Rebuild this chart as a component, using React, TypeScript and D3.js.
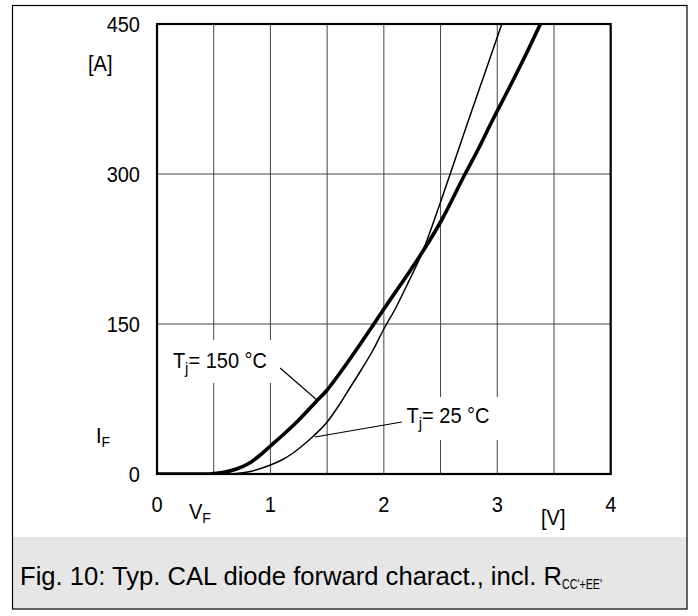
import React from "react";
import * as d3 from "d3";

const xTicks = [0, 1, 2, 3, 4];
const yTicks = [0, 150, 300, 450];
const xGrid = [0.5, 1, 1.5, 2, 2.5, 3, 3.5];
const yGrid = [150, 300];

const hotV = [0, 0.45, 0.5, 0.6, 0.7, 0.8, 0.9, 1.0, 1.1, 1.25, 1.4, 1.5, 1.6, 1.75, 1.9, 2.0, 2.2, 2.34, 2.5, 2.716, 2.833, 2.95, 3.1, 3.25, 3.38];
const hotI = [0, 0, 0.5, 2, 5, 10, 18, 28, 38, 54, 72, 84, 99, 123, 148, 165, 198, 222, 252, 300, 325, 352, 385, 419, 450];

const coldV = [0, 0.6, 0.7, 0.8, 0.9, 1.0, 1.1, 1.2, 1.3, 1.38, 1.5, 1.6, 1.7, 1.8, 1.9, 2.0, 2.1, 2.2, 2.34, 2.5, 2.6, 2.75, 2.9, 3.04];
const coldI = [0, 0, 0.5, 2, 5, 9, 14, 21, 30, 38, 52, 68, 86, 104, 123, 145, 165, 188, 222, 272, 305, 355, 404, 450];

const W = 698;
const H = 616;
const M = { left: 157, right: 610.7, top: 24, bottom: 474 };
const FONT = "'Liberation Sans', Arial, Helvetica, sans-serif";
const SY = 1.1;

function T({ x, y, anchor, size, children }: { x: number; y: number; anchor?: string; size?: number; children: React.ReactNode }) {
  return (
    <text transform={`translate(${x},${y}) scale(1,${SY})`} fontSize={size ?? 20} textAnchor={anchor ?? "start"} fill="#000">
      {children}
    </text>
  );
}

export default function App() {
  const x = d3.scaleLinear().domain([0, 4]).range([M.left, M.right]);
  const y = d3.scaleLinear().domain([0, 450]).range([M.bottom, M.top]);
  const line = d3
    .line<[number, number]>()
    .x((d) => x(d[0]))
    .y((d) => y(d[1]))
    .curve(d3.curveMonotoneX);
  const hot = line(hotV.map((v, i) => [v, hotI[i]] as [number, number])) || "";
  const cold = line(coldV.map((v, i) => [v, coldI[i]] as [number, number])) || "";

  return (
    <svg width={W} height={H} style={{ display: "block", position: "absolute", left: 0, top: 0 }} fontFamily={FONT}>
      <rect x={0} y={0} width={W} height={H} fill="#fff" />
      <rect x={12} y={537} width={675} height={72} fill="#e6e6e6" />
      <rect x={12.5} y={5.5} width={674.5} height={603.5} fill="none" stroke="#000" strokeWidth={1.2} />
      <defs>
        <clipPath id="plotclip">
          <rect x={M.left} y={M.top} width={M.right - M.left} height={M.bottom - M.top} />
        </clipPath>
      </defs>
      {xGrid.map((v) => (
        <line key={"xg" + v} x1={x(v)} x2={x(v)} y1={M.top} y2={M.bottom} stroke="#444" strokeWidth={1} />
      ))}
      {yGrid.map((v) => (
        <line key={"yg" + v} x1={M.left} x2={M.right} y1={y(v)} y2={y(v)} stroke="#444" strokeWidth={1} />
      ))}
      <rect x={x(0.07)} y={y(134)} width={x(1.085) - x(0.07)} height={y(91) - y(134)} fill="#fff" />
      <rect x={x(2.14)} y={y(77)} width={x(3.02) - x(2.14)} height={y(34) - y(77)} fill="#fff" />
      <g clipPath="url(#plotclip)">
        <path d={cold} fill="none" stroke="#000" strokeWidth={1.5} />
        <path d={hot} fill="none" stroke="#000" strokeWidth={3.6} />
      </g>
      <rect x={M.left} y={M.top} width={M.right - M.left} height={M.bottom - M.top} fill="none" stroke="#000" strokeWidth={2.2} />
      <line x1={x(1.085)} y1={y(106)} x2={x(1.41)} y2={y(74)} stroke="#000" strokeWidth={1.2} />
      <line x1={x(2.158)} y1={y(52)} x2={x(1.393)} y2={y(37)} stroke="#000" strokeWidth={1.2} />
      <T x={x(0.14)} y={y(106)}>
        T<tspan fontSize={15} dy={5}>j</tspan>
        <tspan dy={-5}>= 150 °C</tspan>
      </T>
      <T x={x(2.2)} y={y(51)}>
        T<tspan fontSize={15} dy={5}>j</tspan>
        <tspan dy={-5}>= 25 °C</tspan>
      </T>
      {yTicks.map((v) => (
        <T key={"yt" + v} x={140} y={y(v) + 8} anchor="end">
          {v}
        </T>
      ))}
      {xTicks.map((v) => (
        <T key={"xt" + v} x={x(v)} y={512} anchor="middle">
          {v}
        </T>
      ))}
      <T x={88} y={71}>[A]</T>
      <T x={541} y={525}>[V]</T>
      <T x={96} y={443}>
        I<tspan fontSize={14} dy={4}>F</tspan>
      </T>
      <T x={189} y={519}>
        V<tspan fontSize={14} dy={4}>F</tspan>
      </T>
      <text x={20} y={585} fontSize={25.6} fill="#000">
        Fig. 10: Typ. CAL diode forward charact., incl. R
        <tspan fontSize={14} dy={4} textLength={40} lengthAdjust="spacingAndGlyphs">CC'+EE'</tspan>
      </text>
    </svg>
  );
}
